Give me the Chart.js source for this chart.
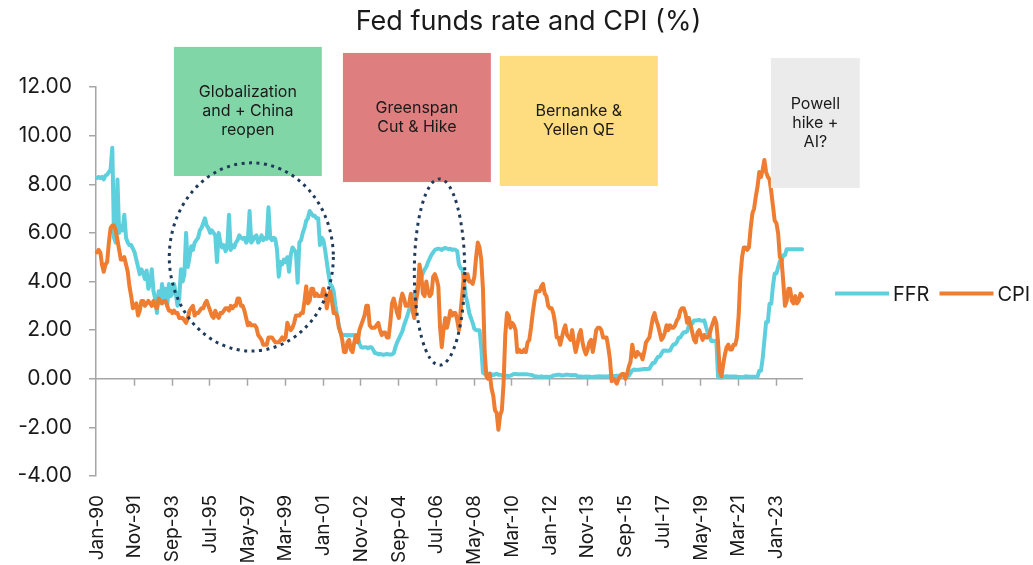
<!DOCTYPE html>
<html>
<head>
<meta charset="utf-8">
<script src="https://cdn.jsdelivr.net/npm/chart.js@4.4.1/dist/chart.umd.min.js"></script>
<style>
html,body{margin:0;padding:0;background:#ffffff;}
canvas{display:block;}
</style>
</head>
<body>
<canvas id="chart" width="1033" height="565"></canvas>
<script>
const FONT = 'Inter, "Noto Sans", sans-serif';
const TITLE = 'Fed funds rate and CPI (%)';

// Monthly categories Jan-90 .. Apr-24
const monthNames = ['Jan','Feb','Mar','Apr','May','Jun','Jul','Aug','Sep','Oct','Nov','Dec'];
const startYear = 1990;
const monthCount = 412;
const categories = [];
for (let i = 0; i < monthCount; i++) {
  const yr = startYear + Math.floor(i / 12);
  categories.push(monthNames[i % 12] + '-' + String(yr % 100).padStart(2, '0'));
}
const labelEvery = 22;
const yTicks = [-4, -2, 0, 2, 4, 6, 8, 10, 12];

const seriesNames = ['FFR', 'CPI'];
const seriesColors = ['#5dcfdd', '#ee7d31'];

// Fed funds rate (%), monthly
const ffr = [
  8.25,8.3,8.25,8.3,8.2,8.35,8.4,8.5,8.6,9.5,5.8,5.6,          // 1990
  8.2,6.0,6.3,6.1,6.75,5.8,5.6,5.5,5.5,5.35,5.2,4.9,           // 1991
  4.6,4.3,4.5,4.35,4.1,4.45,3.7,3.9,4.5,3.6,3.3,2.7,           // 1992
  3.6,3.1,3.9,3.3,3.7,3.0,3.9,3.4,3.5,3.9,3.5,3.0,             // 1993
  3.3,4.5,4.0,4.3,6.0,4.6,5.0,5.45,5.3,5.6,5.7,5.8,            // 1994
  6.1,6.2,6.4,6.6,6.3,6.2,6.0,6.1,6.0,5.9,4.8,6.0,             // 1995
  5.6,5.4,5.5,5.25,5.4,6.75,5.3,5.5,5.4,5.6,5.7,5.9,           // 1996
  5.8,5.75,5.8,5.6,5.7,6.9,5.6,5.7,5.85,5.9,5.6,5.7,           // 1997
  5.9,5.7,5.8,5.75,7.05,5.8,5.7,5.8,5.75,5.3,4.2,4.8,          // 1998
  4.7,4.9,4.8,5.0,4.4,5.1,5.4,5.3,5.2,3.95,5.6,5.7,            // 1999
  6.0,6.2,6.5,6.6,6.9,6.8,6.7,6.7,6.6,6.6,5.5,5.8,             // 2000
  5.7,5.3,4.8,4.3,3.9,3.8,3.6,3.0,2.6,2.2,1.9,1.8,             // 2001
  1.8,1.8,1.78,1.8,1.78,1.8,1.78,1.76,1.75,1.45,1.3,1.28,      // 2002
  1.3,1.3,1.25,1.3,1.3,1.2,1.05,1.05,1.0,1.02,1.0,0.98,        // 2003
  1.0,1.02,1.0,1.0,1.0,1.05,1.3,1.5,1.65,1.8,1.95,2.2,         // 2004
  2.4,2.6,2.85,3.1,3.25,3.45,3.6,3.8,3.95,4.15,4.35,4.5,       // 2005
  4.6,4.8,4.95,5.1,5.2,5.3,5.33,5.35,5.33,5.3,5.35,5.38,       // 2006
  5.35,5.33,5.35,5.3,5.32,5.3,5.25,4.7,4.55,4.5,4.0,3.4,       // 2007
  3.1,2.7,2.5,2.3,2.05,2.0,2.0,2.0,1.3,0.25,0.2,0.15,          // 2008
  0.15,0.22,0.18,0.15,0.18,0.21,0.16,0.16,0.15,0.12,0.12,0.12, // 2009
  0.11,0.13,0.16,0.2,0.2,0.18,0.18,0.19,0.19,0.19,0.19,0.18,   // 2010
  0.17,0.16,0.14,0.1,0.09,0.09,0.07,0.1,0.08,0.07,0.08,0.07,   // 2011
  0.08,0.1,0.13,0.14,0.16,0.16,0.16,0.13,0.14,0.16,0.16,0.16,  // 2012
  0.14,0.15,0.14,0.15,0.11,0.09,0.09,0.08,0.08,0.09,0.08,0.09, // 2013
  0.07,0.07,0.08,0.09,0.09,0.1,0.09,0.09,0.09,0.09,0.09,0.12,  // 2014
  0.11,0.11,0.11,0.12,0.12,0.13,0.13,0.14,0.14,0.12,0.12,0.24, // 2015
  0.34,0.38,0.36,0.37,0.37,0.38,0.39,0.4,0.4,0.4,0.41,0.54,    // 2016
  0.65,0.66,0.79,0.9,0.91,1.04,1.15,1.16,1.15,1.15,1.16,1.3,   // 2017
  1.41,1.42,1.51,1.69,1.7,1.82,1.91,1.91,1.95,2.19,2.2,2.27,   // 2018
  2.4,2.4,2.41,2.42,2.39,2.38,2.4,2.13,1.9,1.8,1.55,1.55,      // 2019
  1.55,1.58,0.08,0.05,0.05,0.08,0.09,0.1,0.09,0.09,0.09,0.09,  // 2020
  0.09,0.08,0.07,0.07,0.06,0.08,0.1,0.09,0.08,0.08,0.08,0.08,  // 2021
  0.08,0.08,0.33,0.33,0.83,1.58,2.33,2.33,3.08,3.08,3.83,4.33, // 2022
  4.33,4.58,4.83,4.83,5.08,5.08,5.33,5.33,5.33,5.33,5.33,5.33, // 2023
  5.33,5.33,5.33,5.33                                          // 2024
];

// CPI, year-over-year (%), monthly
const cpi = [
  5.2,5.3,5.2,4.7,4.4,4.7,4.8,5.6,6.2,6.3,6.3,6.1,      // 1990
  5.7,5.3,4.9,4.9,5.0,4.7,4.4,3.8,3.4,2.9,3.0,3.1,      // 1991
  2.6,2.8,3.2,3.2,3.0,3.1,3.2,3.1,3.0,3.2,3.0,2.9,      // 1992
  3.3,3.2,3.1,3.2,3.2,3.0,2.8,2.8,2.7,2.8,2.7,2.7,      // 1993
  2.5,2.5,2.5,2.4,2.3,2.5,2.8,2.9,3.0,2.6,2.7,2.7,      // 1994
  2.8,2.9,2.9,3.1,3.2,3.0,2.8,2.6,2.5,2.8,2.6,2.5,      // 1995
  2.7,2.7,2.8,2.9,2.9,2.8,3.0,2.9,3.0,3.0,3.3,3.3,      // 1996
  3.0,3.0,2.8,2.5,2.2,2.3,2.2,2.2,2.2,2.1,1.8,1.7,      // 1997
  1.6,1.4,1.4,1.4,1.7,1.7,1.7,1.6,1.5,1.5,1.5,1.6,      // 1998
  1.7,1.6,1.7,2.3,2.1,2.0,2.1,2.3,2.6,2.6,2.6,2.7,      // 1999
  2.7,3.2,3.8,3.1,3.2,3.7,3.7,3.4,3.5,3.4,3.4,3.4,      // 2000
  3.7,3.5,2.9,3.3,3.6,3.2,2.7,2.7,2.6,2.1,1.9,1.6,      // 2001
  1.1,1.1,1.5,1.6,1.2,1.1,1.5,1.8,1.5,2.0,2.2,2.4,      // 2002
  2.6,3.0,3.0,2.2,2.1,2.1,2.1,2.2,2.3,2.0,1.8,1.9,      // 2003
  1.9,1.7,1.7,2.3,3.1,3.3,3.0,2.7,2.5,3.2,3.5,3.3,      // 2004
  3.0,3.0,3.1,3.5,2.8,2.5,3.2,3.6,4.7,4.3,3.5,3.4,      // 2005
  4.0,3.6,3.4,3.5,4.2,4.3,4.1,3.8,2.1,1.3,2.0,2.5,      // 2006
  2.1,2.4,2.8,2.6,2.7,2.7,2.4,2.0,2.8,3.5,4.3,4.1,      // 2007
  4.3,4.0,4.0,3.9,4.2,5.0,5.6,5.4,4.9,3.7,1.1,0.1,      // 2008
  0.0,0.2,-0.4,-0.7,-1.3,-1.4,-2.1,-1.5,-1.3,-0.2,1.8,2.7, // 2009
  2.6,2.1,2.3,2.2,2.0,1.1,1.2,1.1,1.1,1.2,1.1,1.5,      // 2010
  1.6,2.1,2.7,3.2,3.6,3.6,3.6,3.8,3.9,3.5,3.4,3.0,      // 2011
  2.9,2.9,2.7,2.3,1.7,1.7,1.4,1.7,2.0,2.2,1.8,1.7,      // 2012
  1.6,2.0,1.5,1.1,1.4,1.8,2.0,1.5,1.2,1.0,1.2,1.5,      // 2013
  1.6,1.1,1.5,2.0,2.1,2.1,2.0,1.7,1.7,1.7,1.3,0.8,      // 2014
  -0.1,0.0,-0.1,-0.2,0.0,0.1,0.2,0.2,0.0,0.2,0.5,0.7,   // 2015
  1.4,1.0,0.9,1.1,1.0,1.0,0.8,1.1,1.5,1.6,1.7,2.1,      // 2016
  2.5,2.7,2.4,2.2,1.9,1.6,1.7,1.9,2.2,2.0,2.2,2.1,      // 2017
  2.1,2.2,2.4,2.5,2.8,2.9,2.9,2.7,2.3,2.5,2.2,1.9,      // 2018
  1.6,1.5,1.9,2.0,1.8,1.6,1.8,1.7,1.7,1.8,2.1,2.3,      // 2019
  2.5,2.3,1.5,0.3,0.1,0.6,1.0,1.3,1.4,1.2,1.2,1.4,      // 2020
  1.4,1.7,2.6,4.2,5.0,5.4,5.4,5.3,5.4,6.2,6.8,7.0,      // 2021
  7.5,7.9,8.5,8.3,8.6,9.0,8.5,8.3,8.2,7.7,7.1,6.5,      // 2022
  6.4,6.0,5.0,4.9,4.0,3.0,3.2,3.7,3.7,3.2,3.1,3.4,      // 2023
  3.1,3.2,3.5,3.4                                       // 2024
];

// Annotation boxes (x in month index, y in % units)
const boxTexts = [
  ['Globalization', 'and + China', 'reopen'],
  ['Greenspan', 'Cut & Hike'],
  ['Bernanke &', 'Yellen QE'],
  ['Powell', 'hike +', 'AI?']
];
const boxColors = ['#80d6a7', '#df7e7e', '#fedc80', '#ebebeb'];
const boxX = [[44.9, 131.1], [143.4, 229.6], [234.8, 326.9], [392.8, 444.6]];
const boxY = [[13.65, 8.34], [13.40, 8.09], [13.28, 7.93], [13.19, 7.85]];

// Dotted ellipses (center idx, center value, radius idx, radius value)
const ellipseCenters = [[90.0, 5.01], [199.7, 4.39]];
const ellipseRadii = [[47.8, 3.87], [14.7, 3.83]];

const AXIS_COLOR = '#a6a6a6';
const TEXT_COLOR = '#1a1a1a';

const zeroAxisPlugin = {
  id: 'zeroAxis',
  beforeDatasetsDraw(chart) {
    const {ctx, chartArea, scales} = chart;
    const y0 = scales.y.getPixelForValue(0);
    const half = (scales.x.getPixelForValue(1) - scales.x.getPixelForValue(0)) / 2;
    ctx.save();
    ctx.strokeStyle = AXIS_COLOR;
    ctx.lineWidth = 1.5;
    ctx.beginPath();
    ctx.moveTo(chartArea.left, y0);
    ctx.lineTo(chartArea.right, y0);
    for (let i = labelEvery; i < categories.length; i += labelEvery) {
      const x = Math.round(scales.x.getPixelForValue(i) - half) + 0.5;
      ctx.moveTo(x, y0);
      ctx.lineTo(x, y0 + 7);
    }
    ctx.stroke();
    ctx.restore();
  }
};

const decorPlugin = {
  id: 'decor',
  afterDatasetsDraw(chart) {
    const {ctx, chartArea, scales} = chart;
    const xs = scales.x, ys = scales.y;
    ctx.save();
    // boxes
    boxTexts.forEach((lines, k) => {
      const x0 = xs.getPixelForValue(boxX[k][0]);
      const x1 = xs.getPixelForValue(boxX[k][1]);
      const y0 = ys.getPixelForValue(boxY[k][0]);
      const y1 = ys.getPixelForValue(boxY[k][1]);
      ctx.fillStyle = boxColors[k];
      ctx.fillRect(x0, y0, x1 - x0, y1 - y0);
      ctx.fillStyle = TEXT_COLOR;
      ctx.font = '16px ' + FONT;
      ctx.textAlign = 'center';
      ctx.textBaseline = 'middle';
      const lh = 19;
      const cx = (x0 + x1) / 2, cy = (y0 + y1) / 2;
      lines.forEach((t, j) => {
        ctx.fillText(t, cx, cy + (j - (lines.length - 1) / 2) * lh);
      });
    });
    // ellipses
    ctx.strokeStyle = '#1f3a5a';
    ctx.lineWidth = 3;
    ctx.setLineDash([3, 4.5]);
    ellipseCenters.forEach((c, k) => {
      const cx = xs.getPixelForValue(c[0]);
      const cy = ys.getPixelForValue(c[1]);
      const rx = xs.getPixelForValue(c[0] + ellipseRadii[k][0]) - cx;
      const ry = cy - ys.getPixelForValue(c[1] + ellipseRadii[k][1]);
      ctx.beginPath();
      ctx.ellipse(cx, cy, rx, ry, 0, 0, Math.PI * 2);
      ctx.stroke();
    });
    ctx.setLineDash([]);
    // title
    ctx.fillStyle = TEXT_COLOR;
    ctx.font = '27px ' + FONT;
    ctx.textAlign = 'center';
    ctx.textBaseline = 'middle';
    ctx.fillText(TITLE, chart.width / 2 + 12, 22);
    // legend
    ctx.font = '20px ' + FONT;
    ctx.textAlign = 'left';
    let lx = chartArea.right + 32;
    const ly = (chartArea.top + chartArea.bottom) / 2 + 12;
    seriesNames.forEach((name, k) => {
      ctx.strokeStyle = seriesColors[k];
      ctx.lineWidth = 4;
      ctx.beginPath();
      ctx.moveTo(lx, ly);
      ctx.lineTo(lx + 54, ly);
      ctx.stroke();
      ctx.fillStyle = TEXT_COLOR;
      ctx.fillText(name, lx + 58, ly + 1);
      lx += 58 + ctx.measureText(name).width + 10;
    });
    ctx.restore();
  }
};

new Chart(document.getElementById('chart'), {
  type: 'line',
  data: {
    labels: categories,
    datasets: [
      {label: seriesNames[0], data: ffr, borderColor: seriesColors[0], backgroundColor: seriesColors[0],
       borderWidth: 4, pointRadius: 0, tension: 0, order: 2, borderJoinStyle: 'round', borderCapStyle: 'round'},
      {label: seriesNames[1], data: cpi, borderColor: seriesColors[1], backgroundColor: seriesColors[1],
       borderWidth: 4, pointRadius: 0, tension: 0, order: 1, borderJoinStyle: 'round', borderCapStyle: 'round'}
    ]
  },
  options: {
    responsive: false,
    animation: false,
    devicePixelRatio: 1,
    layout: {padding: {left: 0, right: 230, top: 87, bottom: 0}},
    plugins: {legend: {display: false}, title: {display: false}, tooltip: {enabled: false}},
    scales: {
      x: {
        type: 'category',
        offset: true,
        grid: {display: false},
        border: {display: false},
        ticks: {
          autoSkip: false, minRotation: 90, maxRotation: 90, padding: 11,
          color: TEXT_COLOR, font: {family: FONT, size: 19},
          callback: (v, i) => (i % labelEvery === 0 ? categories[i] : null)
        },
        afterFit: s => { s.height = 89; }
      },
      y: {
        min: -4, max: 12,
        grid: {drawOnChartArea: false, drawTicks: true, tickLength: 7, color: AXIS_COLOR, lineWidth: 1.5},
        border: {display: true, color: AXIS_COLOR, width: 1.5},
        ticks: {padding: 17, color: TEXT_COLOR, font: {family: FONT, size: 21}, callback: v => Number(v).toFixed(2)},
        afterBuildTicks: s => { s.ticks = yTicks.map(v => ({value: v})); },
        afterFit: s => { s.width = 96; }
      }
    }
  },
  plugins: [zeroAxisPlugin, decorPlugin]
});
</script>
</body>
</html>
